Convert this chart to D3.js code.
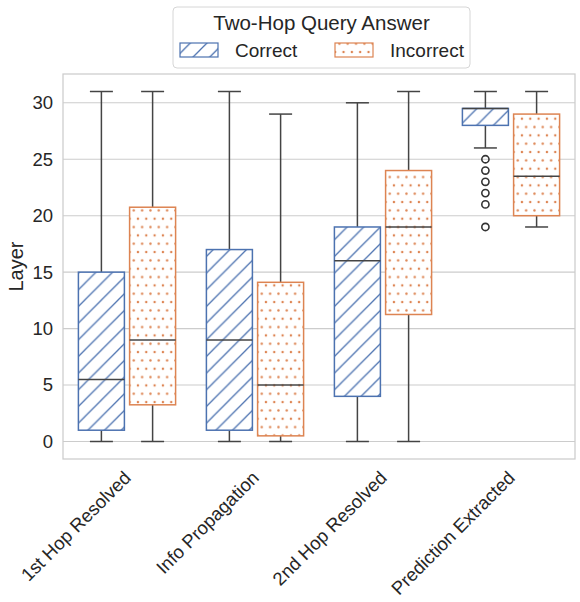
<!DOCTYPE html>
<html>
<head>
<meta charset="utf-8">
<script src="https://cdn.jsdelivr.net/npm/d3@7"></script>
<style>
  body { margin: 0; background: #fff; }
  svg { font-family: Arial, 'Liberation Sans', sans-serif; }
</style>
</head>
<body>
<div id="chart"></div>
<script>
// stages on the x axis, hue = answer
const stages = ['1st Hop Resolved', 'Info Propagation', '2nd Hop Resolved', 'Prediction Extracted']
const answers = ['Correct', 'Incorrect']

// [whisker low, q1, median, q3, whisker high]
const correctBoxes = [
  [0, 1, 5.5, 15, 31],
  [0, 1, 9, 17, 31],
  [0, 4, 16, 19, 30],
  [26, 28, 29.5, 29.5, 31]
]
const incorrectBoxes = [
  [0, 3.25, 9, 20.75, 31],
  [0, 0.5, 5, 14.1, 29],
  [0, 11.25, 19, 24, 31],
  [19, 20, 23.5, 29, 31]
]
const correctOutliers = [[], [], [], [25, 24, 23, 22, 21, 19]]
const incorrectOutliers = [[], [], [], []]

const yTicks = [0, 5, 10, 15, 20, 25, 30]

const colors = { Correct: '#4c72b0', Incorrect: '#dd8452' }
const LINE = '#444444'

const dimensions = {
  width: 580,
  height: 602,
  margin: { top: 74, right: 5, bottom: 143, left: 63 }
}

const wrapper = d3.select('#chart').append('svg')
  .attr('width', dimensions.width)
  .attr('height', dimensions.height)

const defs = wrapper.append('defs')

// '/' hatch
const hatch = defs.append('pattern')
  .attr('id', 'hatch')
  .attr('patternUnits', 'userSpaceOnUse')
  .attr('width', 16.67)
  .attr('height', 16.67)
hatch.append('path')
  .attr('d', 'M-4.17,4.17 L4.17,-4.17 M0,16.67 L16.67,0 M12.5,20.83 L20.83,12.5')
  .attr('stroke', colors.Correct)
  .attr('stroke-width', 1.3)

// '..' dots, staggered rows
const dots = defs.append('pattern')
  .attr('id', 'dots')
  .attr('patternUnits', 'userSpaceOnUse')
  .attr('width', 8.33)
  .attr('height', 16.67)
  .attr('x', 2)
  .attr('y', 2)
const dotPts = [[0, 0], [8.33, 0], [0, 16.67], [8.33, 16.67], [4.17, 8.33]]
dots.selectAll('circle')
  .data(dotPts)
  .join('circle')
  .attr('cx', d => d[0])
  .attr('cy', d => d[1])
  .attr('r', 1.2)
  .attr('fill', colors.Incorrect)

const patternOf = { Correct: 'url(#hatch)', Incorrect: 'url(#dots)' }

const plotW = dimensions.width - dimensions.margin.left - dimensions.margin.right
const plotB = dimensions.height - dimensions.margin.bottom

const xScale = d3.scaleBand()
  .domain(stages)
  .range([dimensions.margin.left, dimensions.width - dimensions.margin.right])
  .padding(0)

const hueScale = d3.scaleBand()
  .domain(answers)
  .range([-0.4 * xScale.bandwidth(), 0.4 * xScale.bandwidth()])

const yScale = d3.scaleLinear()
  .domain([-1.55, 32.55])
  .range([plotB, dimensions.margin.top])

// grid
wrapper.append('g')
  .selectAll('line')
  .data(yTicks)
  .join('line')
  .attr('x1', dimensions.margin.left)
  .attr('x2', dimensions.margin.left + plotW)
  .attr('y1', d => yScale(d))
  .attr('y2', d => yScale(d))
  .attr('stroke', '#cccccc')
  .attr('stroke-width', 1.1)

// frame
wrapper.append('rect')
  .attr('x', dimensions.margin.left)
  .attr('y', dimensions.margin.top)
  .attr('width', plotW)
  .attr('height', plotB - dimensions.margin.top)
  .attr('fill', 'none')
  .attr('stroke', '#cccccc')
  .attr('stroke-width', 1.25)

// y axis
const yAxis = wrapper.append('g')
  .attr('transform', `translate(${dimensions.margin.left}, 0)`)
  .call(d3.axisLeft(yScale).tickValues(yTicks).tickSize(0).tickPadding(10))
yAxis.select('.domain').remove()
yAxis.selectAll('text')
  .attr('fill', '#262626')
  .style('font-size', '18.5px')

wrapper.append('text')
  .attr('transform', `translate(23, ${yScale(15.5)}) rotate(-90)`)
  .attr('text-anchor', 'middle')
  .attr('fill', '#262626')
  .style('font-size', '20px')
  .text('Layer')

// x axis labels, rotated
wrapper.append('g')
  .selectAll('text')
  .data(stages)
  .join('text')
  .attr('transform', d => `translate(${xScale(d) + xScale.bandwidth() / 2 + 5}, ${plotB + 20}) rotate(-45)`)
  .attr('text-anchor', 'end')
  .attr('fill', '#262626')
  .style('font-size', '18.5px')
  .text(d => d)

// boxes
const boxW = 46
const capW = 23
const rows = []
stages.forEach((s, i) => {
  rows.push({ stage: s, answer: 'Correct', stats: correctBoxes[i], out: correctOutliers[i] })
  rows.push({ stage: s, answer: 'Incorrect', stats: incorrectBoxes[i], out: incorrectOutliers[i] })
})

const boxes = wrapper.append('g')
  .selectAll('g')
  .data(rows)
  .join('g')
  .attr('transform', d => `translate(${xScale(d.stage) + xScale.bandwidth() / 2 + hueScale(d.answer) + hueScale.bandwidth() / 2}, 0)`)

// whiskers
boxes.append('line')
  .attr('y1', d => yScale(d.stats[0]))
  .attr('y2', d => yScale(d.stats[1]))
  .attr('stroke', LINE).attr('stroke-width', 1.5)
boxes.append('line')
  .attr('y1', d => yScale(d.stats[3]))
  .attr('y2', d => yScale(d.stats[4]))
  .attr('stroke', LINE).attr('stroke-width', 1.5)
boxes.append('line')
  .attr('x1', -capW / 2).attr('x2', capW / 2)
  .attr('y1', d => yScale(d.stats[0]))
  .attr('y2', d => yScale(d.stats[0]))
  .attr('stroke', LINE).attr('stroke-width', 1.5)
boxes.append('line')
  .attr('x1', -capW / 2).attr('x2', capW / 2)
  .attr('y1', d => yScale(d.stats[4]))
  .attr('y2', d => yScale(d.stats[4]))
  .attr('stroke', LINE).attr('stroke-width', 1.5)

// box body
boxes.append('rect')
  .attr('x', -boxW / 2)
  .attr('width', boxW)
  .attr('y', d => yScale(d.stats[3]))
  .attr('height', d => yScale(d.stats[1]) - yScale(d.stats[3]))
  .attr('fill', '#ffffff')
boxes.append('rect')
  .attr('x', -boxW / 2)
  .attr('width', boxW)
  .attr('y', d => yScale(d.stats[3]))
  .attr('height', d => yScale(d.stats[1]) - yScale(d.stats[3]))
  .attr('fill', d => patternOf[d.answer])
  .attr('stroke', d => colors[d.answer])
  .attr('stroke-width', 1.5)

// median
boxes.append('line')
  .attr('x1', -boxW / 2).attr('x2', boxW / 2)
  .attr('y1', d => yScale(d.stats[2]))
  .attr('y2', d => yScale(d.stats[2]))
  .attr('stroke', LINE).attr('stroke-width', 1.5)

// fliers
boxes.selectAll('circle')
  .data(d => d.out)
  .join('circle')
  .attr('cy', d => yScale(d))
  .attr('r', 3.6)
  .attr('fill', 'none')
  .attr('stroke', '#333333')
  .attr('stroke-width', 1.6)

// legend
const legend = wrapper.append('g')
legend.append('rect')
  .attr('x', 173).attr('y', 7)
  .attr('width', 297).attr('height', 61)
  .attr('rx', 4)
  .attr('fill', '#ffffff')
  .attr('fill-opacity', 0.85)
  .attr('stroke', '#d6d6d6')
legend.append('text')
  .attr('x', 321.5).attr('y', 30)
  .attr('text-anchor', 'middle')
  .attr('fill', '#262626')
  .style('font-size', '20.5px')
  .text('Two-Hop Query Answer')

const legendX = { Correct: 180, Incorrect: 335 }
const items = legend.selectAll('g.item')
  .data(answers)
  .join('g')
  .attr('class', 'item')
items.append('rect')
  .attr('x', d => legendX[d]).attr('y', 43)
  .attr('width', 38).attr('height', 14)
  .attr('fill', d => patternOf[d])
  .attr('stroke', d => colors[d])
  .attr('stroke-width', 1.2)
items.append('text')
  .attr('x', d => legendX[d] + 55).attr('y', 57)
  .attr('fill', '#262626')
  .style('font-size', '19px')
  .text(d => d)
</script>
</body>
</html>
